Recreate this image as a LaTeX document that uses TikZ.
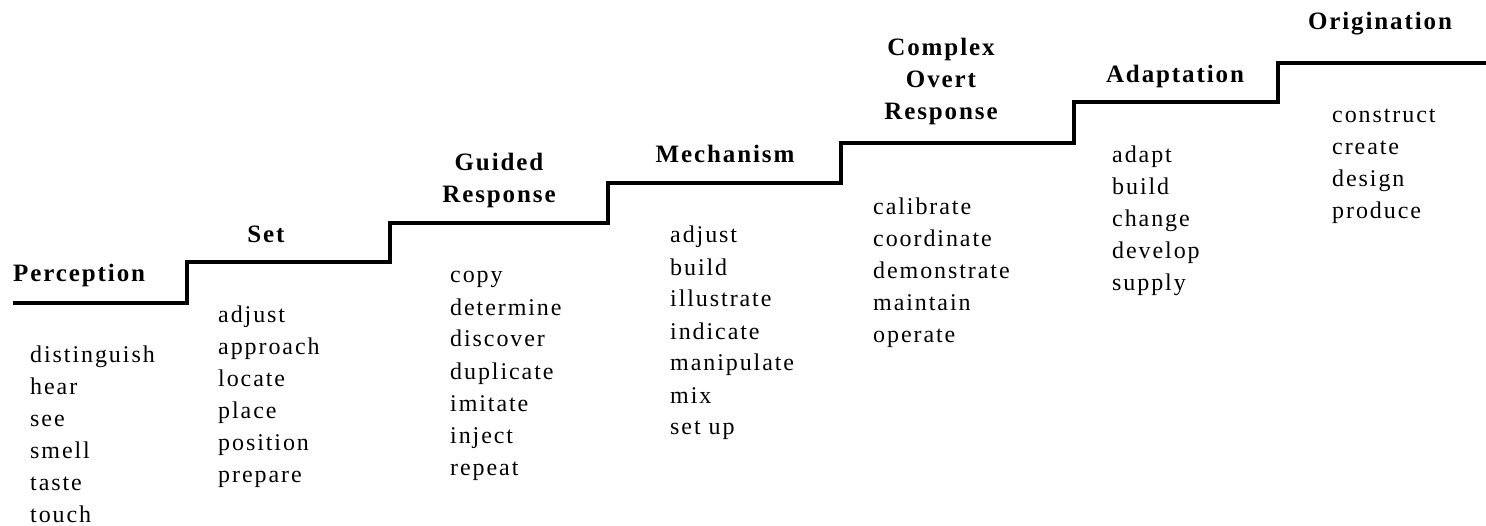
\documentclass[tikz,border=0pt]{standalone}
\usepackage{fontspec}
\setmainfont{Liberation Serif}
\newfontfamily\stagefont{Liberation Serif}[LetterSpace=7.6]
\newfontfamily\verbfont{Liberation Serif}[LetterSpace=8]

\begin{document}
\begin{tikzpicture}[x=1pt,y=-1pt,
  stage/.style={font=\stagefont\bfseries\fontsize{25}{32}\selectfont, align=center, inner sep=0pt, anchor=base},
  verbs/.style={font=\verbfont\fontsize{24}{32}\selectfont, align=left, inner sep=0pt, anchor=base west}]
  \useasboundingbox (0,0) rectangle (1486,526);

  % stairs
  \draw[line width=3.5pt] (13,303) -| (187,262) -| (390,223) -| (608,183) -| (841,143) -| (1074,102) -| (1278,63) -- (1486,63);

  % stage names (base = last line)
  \node[stage, anchor=base west] (perception) at(13,282){Perception};
  \node[stage] (set) at(266,243){Set};
  \node[stage] (guided) at(499,203){Guided\\Response};
  \node[stage] (mechanism) at(725,163){Mechanism};
  \node[stage] (complex) at(941,120){Complex\\Overt\\Response};
  \node[stage] (adaptation) at(1175,83){Adaptation};
  \node[stage] (origination) at(1380,30){Origination};

  % verbs under each stage (base = last line)
  \node[verbs] (perceptionverbs) at(30,522){distinguish\\hear\\see\\smell\\taste\\touch};
  \node[verbs] (setverbs) at(218,482){adjust\\approach\\locate\\place\\position\\prepare};
  \node[verbs] (guidedverbs) at(450,475){copy\\determine\\discover\\duplicate\\imitate\\inject\\repeat};
  \node[verbs] (mechanismverbs) at(670,435){adjust\\build\\illustrate\\indicate\\manipulate\\mix\\set up};
  \node[verbs] (complexverbs) at(873,343){calibrate\\coordinate\\demonstrate\\maintain\\operate};
  \node[verbs] (adaptationverbs) at(1112,291){adapt\\build\\change\\develop\\supply};
  \node[verbs] (originationverbs) at(1332,219){construct\\create\\design\\produce};
\end{tikzpicture}
\end{document}
